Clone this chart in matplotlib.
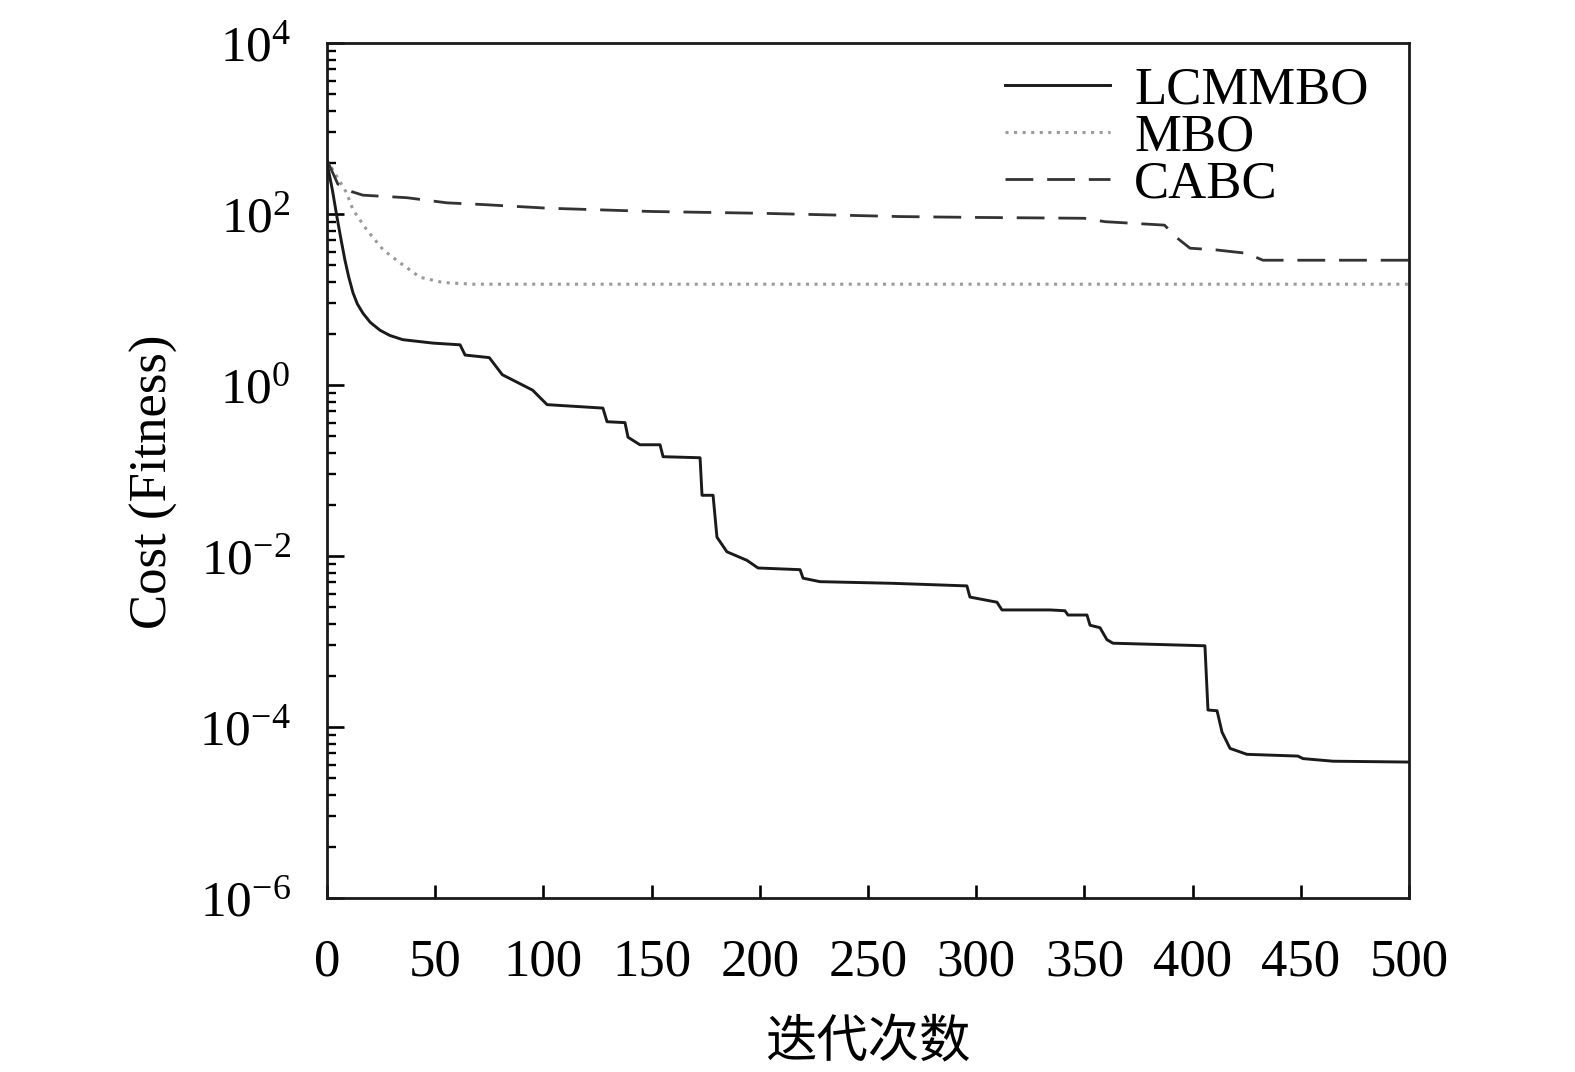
import numpy as np
import matplotlib
matplotlib.use("Agg")
import matplotlib.pyplot as plt
from matplotlib.ticker import FixedLocator, LogFormatterMathtext, NullFormatter

plt.rcParams['font.family'] = ['Liberation Serif', 'Noto Sans CJK SC']
plt.rcParams['mathtext.fontset'] = 'custom'
plt.rcParams['mathtext.rm'] = 'Liberation Serif'
plt.rcParams['mathtext.it'] = 'Liberation Serif:italic'
plt.rcParams['axes.unicode_minus'] = True

# values
lcmmbo_iter = [0, 2.5, 4.6, 6.5, 8.3, 10, 12, 14, 16.6, 20, 24.5, 29, 35, 49, 61.5, 63.8,
               75, 81, 95, 101.7, 127.5, 129.4, 137.7, 139.1, 144.6, 153.9, 155.3,
               172.4, 173.3, 178.4, 180.2, 184.8, 194, 199.2, 218.6, 220, 227.8, 261.6,
               295.7, 297.1, 309.6, 311.9, 334.1, 341, 342.4, 351.2, 352.6, 357.2,
               360.4, 363.2, 405.7, 407.1, 411.3, 413.6, 417.3, 425.1, 448.7, 451,
               464.9, 500]
lcmmbo_cost = [398, 190, 92.3, 50, 28.8, 18.5, 12.0, 8.9, 6.92, 5.4, 4.37, 3.8, 3.39,
               3.09, 2.95, 2.24, 2.09, 1.32, 0.871, 0.589, 0.537, 0.372, 0.363, 0.245,
               0.200, 0.200, 0.145, 0.141, 0.0513, 0.0513, 0.0166, 0.0112, 0.00891,
               0.00724, 0.00692, 0.00550, 0.00501, 0.00479, 0.00447, 0.00331, 0.00288,
               0.00234, 0.00234, 0.00229, 0.00204, 0.00204, 0.00155, 0.00145, 0.00105,
               0.000955, 0.000891, 0.000158, 0.000155, 8.71e-5, 5.62e-5, 4.79e-5,
               4.57e-5, 4.27e-5, 3.98e-5, 3.89e-5]

mbo_iter = [0, 9, 12, 18.5, 26, 33.7, 43, 53.6, 67.5, 500]
mbo_cost = [427, 178, 112, 64.6, 38.0, 26.9, 18.2, 15.8, 15.1, 15.1]

cabc_iter = [0, 5, 11.6, 16.6, 37, 55.5, 72, 101.7, 150, 200, 265, 300, 350, 359.5,
             387, 392.8, 398.8, 411, 425, 432.5, 500]
cabc_cost = [427, 224, 182, 166, 155, 135, 129, 117, 107, 102, 93.3, 91.2, 89.1,
             81.3, 74.1, 52.5, 39.8, 38.0, 34.7, 28.8, 28.8]

x_ticks = [0, 50, 100, 150, 200, 250, 300, 350, 400, 450, 500]
y_major = [1e-6, 1e-4, 1e-2, 1e0, 1e2, 1e4]

fig = plt.figure(figsize=(15.75, 10.72), dpi=100)
ax = fig.add_axes([327 / 1575, 1 - 898 / 1072, (1409 - 327) / 1575, (898 - 43) / 1072])

ax.plot(lcmmbo_iter, lcmmbo_cost, color='#1a1a1a', lw=2.1, label='LCMMBO')
ax.plot(mbo_iter, mbo_cost, color='#9a9a9a', lw=2.2, dashes=(1.0, 1.8), label='MBO')
ax.plot(cabc_iter, cabc_cost, color='#333333', lw=2.0, dashes=(10, 5), label='CABC')

ax.set_yscale('log')
ax.set_xlim(0, 500)
ax.set_ylim(1e-6, 1e4)

ax.xaxis.set_major_locator(FixedLocator(x_ticks))
ax.yaxis.set_major_locator(FixedLocator(y_major))
ax.yaxis.set_major_formatter(LogFormatterMathtext())
# minor ticks sit at k^2 inside each two-decade step
minor = [k ** 2 * 10.0 ** e for e in (-6, -4, -2, 0, 2) for k in range(2, 10)]
ax.yaxis.set_minor_locator(FixedLocator(minor))
ax.yaxis.set_minor_formatter(NullFormatter())

for s in ax.spines.values():
    s.set_linewidth(2.0)
    s.set_color('#1a1a1a')

ax.tick_params(axis='y', which='major', direction='in', length=12, width=1.9,
               labelsize=37, pad=26, right=False)
ax.tick_params(axis='y', which='minor', direction='in', length=6.5, width=1.7, right=False)
ax.tick_params(axis='x', which='major', direction='in', length=9.5, width=1.9,
               labelsize=38, pad=29, top=False)

ax.set_ylabel('Cost (Fitness)', fontsize=38)
ax.yaxis.set_label_coords(-0.138, 0.487)
ax.set_xlabel('迭代次数', fontsize=37)
ax.xaxis.set_label_coords(0.5, -0.143)

ax.legend(loc='upper right', frameon=False, fontsize=38, handlelength=2.0,
          labelspacing=-0.02, handletextpad=0.45, borderaxespad=0.0,
          bbox_to_anchor=(0.982, 0.997))

fig.savefig('out.png', dpi=100)
